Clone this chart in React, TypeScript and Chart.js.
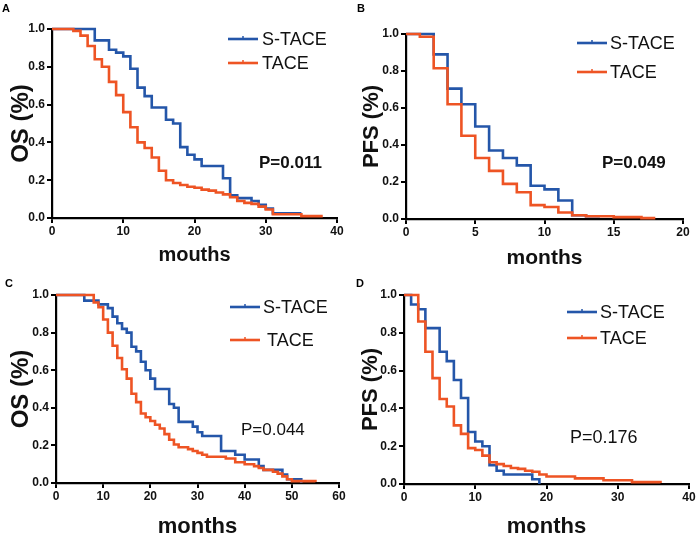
import React, { useEffect, useRef } from "react";
import { Chart, registerables } from "chart.js";
Chart.register(...registerables);

const BLUE = "#2456a9";
const ORANGE = "#ee5424";
const FONT = 'Arial, "Liberation Sans", Helvetica, sans-serif';

// Panel A: OS
const aBlueT = [0, 6, 8, 9, 10, 11, 12, 13, 14, 16, 17, 18, 19, 20, 21, 24, 25, 26, 28, 29, 30, 31, 35];
const aBlueS = [1, 0.94, 0.89, 0.875, 0.855, 0.79, 0.69, 0.645, 0.585, 0.52, 0.5, 0.375, 0.335, 0.31, 0.275, 0.21, 0.12, 0.105, 0.09, 0.07, 0.05, 0.025, 0.025];
const aOrangeT = [0, 3, 4, 5, 6, 7, 8, 9, 10, 11, 12, 13, 14, 15, 16, 17, 18, 19, 20, 21, 22, 23, 24, 25, 26, 27, 28, 29, 30, 31, 35, 38];
const aOrangeS = [1, 0.99, 0.965, 0.91, 0.84, 0.8, 0.72, 0.65, 0.56, 0.48, 0.4, 0.37, 0.32, 0.25, 0.2, 0.185, 0.175, 0.165, 0.16, 0.15, 0.145, 0.135, 0.125, 0.11, 0.09, 0.08, 0.075, 0.06, 0.045, 0.02, 0.01, 0.01];

// Panel B: PFS
const bBlueT = [0, 2, 3, 4, 5, 6, 7, 8, 9, 10, 11, 12, 13, 14];
const bBlueS = [1, 0.89, 0.705, 0.62, 0.5, 0.37, 0.33, 0.29, 0.18, 0.16, 0.1, 0.02, 0.015, 0.015];
const bOrangeT = [0, 1, 2, 3, 4, 5, 6, 7, 8, 9, 10, 11, 12, 13, 15, 17, 18];
const bOrangeS = [1, 0.985, 0.815, 0.62, 0.45, 0.33, 0.26, 0.19, 0.145, 0.075, 0.065, 0.035, 0.02, 0.015, 0.01, 0.005, 0.005];

// Panel C: OS
const cBlueT = [0, 6, 9, 11, 12, 13, 14, 15, 16, 17, 18, 19, 20, 21, 24, 25, 26, 29, 30, 31, 35, 38, 40, 43, 44, 48, 49, 52];
const cBlueS = [1, 0.97, 0.95, 0.93, 0.885, 0.85, 0.82, 0.8, 0.725, 0.7, 0.645, 0.6, 0.555, 0.5, 0.42, 0.4, 0.325, 0.3, 0.27, 0.25, 0.17, 0.15, 0.125, 0.09, 0.07, 0.045, 0.02, 0];
const cOrangeT = [0, 8, 9, 10, 11, 12, 13, 14, 15, 16, 17, 18, 19, 20, 21, 22, 23, 24, 25, 26, 28, 29, 30, 31, 32, 36, 38, 40, 42, 43, 44, 46, 47, 48, 49, 50, 55];
const cOrangeS = [1, 0.96, 0.935, 0.87, 0.8, 0.73, 0.665, 0.605, 0.555, 0.475, 0.43, 0.37, 0.35, 0.33, 0.31, 0.29, 0.26, 0.23, 0.205, 0.19, 0.18, 0.17, 0.16, 0.15, 0.14, 0.13, 0.11, 0.1, 0.09, 0.08, 0.07, 0.06, 0.05, 0.035, 0.02, 0.01, 0.005];

// Panel D: PFS
const dBlueT = [0, 1, 2, 3, 5, 6, 7, 8, 9, 10, 11, 12, 13, 14, 18, 19];
const dBlueS = [1, 0.95, 0.925, 0.825, 0.7, 0.65, 0.55, 0.455, 0.275, 0.225, 0.2, 0.1, 0.07, 0.05, 0.025, 0];
const dOrangeT = [0, 2, 3, 4, 5, 6, 7, 8, 9, 10, 11, 12, 13, 14, 15, 16, 17, 18, 19, 20, 24, 28, 32, 36];
const dOrangeS = [1, 0.86, 0.7, 0.56, 0.45, 0.41, 0.31, 0.265, 0.19, 0.18, 0.15, 0.115, 0.105, 0.095, 0.085, 0.08, 0.07, 0.065, 0.05, 0.04, 0.03, 0.02, 0.01, 0.005];

const groupLabels = ["S-TACE", "TACE"];

type PanelCfg = {
  left: number; top: number; w: number; h: number;
  area: { l: number; r: number; t: number; b: number };
  xMax: number; xStep: number;
  blueT: number[]; blueS: number[]; orangeT: number[]; orangeS: number[];
  xTitle: string; xTitleSize: number; xTitlePad: number;
  yTitle: string; yTitleSize: number; yTitlePad: number;
  letter: string; letterX: number; letterY: number;
  legX: number; legY: number[]; legTextX: number[];
  pText: string; pX: number; pY: number; pBold: boolean; pSize: number;
};

const panels: PanelCfg[] = [
  {
    left: 0, top: 0, w: 350, h: 270,
    area: { l: 52, r: 337, t: 29, b: 218 },
    xMax: 40, xStep: 10,
    blueT: aBlueT, blueS: aBlueS, orangeT: aOrangeT, orangeS: aOrangeS,
    xTitle: "mouths", xTitleSize: 20, xTitlePad: 5,
    yTitle: "OS (%)", yTitleSize: 24, yTitlePad: 9,
    letter: "A", letterX: 2, letterY: 8.5,
    legX: 228, legY: [39, 63], legTextX: [262, 262],
    pText: "P=0.011", pX: 259, pY: 163, pBold: true, pSize: 17,
  },
  {
    left: 350, top: 0, w: 350, h: 270,
    area: { l: 56, r: 333, t: 34, b: 219 },
    xMax: 20, xStep: 5,
    blueT: bBlueT, blueS: bBlueS, orangeT: bOrangeT, orangeS: bOrangeS,
    xTitle: "months", xTitleSize: 21, xTitlePad: 1.5,
    yTitle: "PFS (%)", yTitleSize: 22, yTitlePad: 10.5,
    letter: "B", letterX: 7, letterY: 8.5,
    legX: 227, legY: [43, 72], legTextX: [260, 260],
    pText: "P=0.049", pX: 252, pY: 163, pBold: true, pSize: 17,
  },
  {
    left: 0, top: 270, w: 350, h: 269,
    area: { l: 56, r: 339, t: 25, b: 213 },
    xMax: 60, xStep: 10,
    blueT: cBlueT, blueS: cBlueS, orangeT: cOrangeT, orangeS: cOrangeS,
    xTitle: "months", xTitleSize: 22, xTitlePad: 1,
    yTitle: "OS (%)", yTitleSize: 24, yTitlePad: 9.5,
    letter: "C", letterX: 5, letterY: 14,
    legX: 230, legY: [37, 70], legTextX: [263, 267],
    pText: "P=0.044", pX: 241, pY: 160, pBold: false, pSize: 17,
  },
  {
    left: 350, top: 270, w: 350, h: 269,
    area: { l: 54, r: 339, t: 25, b: 214 },
    xMax: 40, xStep: 10,
    blueT: dBlueT, blueS: dBlueS, orangeT: dOrangeT, orangeS: dOrangeS,
    xTitle: "months", xTitleSize: 22, xTitlePad: 1,
    yTitle: "PFS (%)", yTitleSize: 22, yTitlePad: 10,
    letter: "D", letterX: 6, letterY: 14,
    legX: 217, legY: [42, 68], legTextX: [250, 250],
    pText: "P=0.176", pX: 220, pY: 168, pBold: false, pSize: 18,
  },
];

const decoPlugin = {
  id: "deco",
  afterDraw(chart: any, _args: any, opts: any) {
    const ctx = chart.ctx as CanvasRenderingContext2D;
    ctx.save();
    ctx.fillStyle = "#000";
    ctx.textAlign = "left";
    ctx.textBaseline = "middle";
    ctx.font = `bold 11px ${FONT}`;
    ctx.fillText(opts.letter, opts.letterX, opts.letterY);
    const colors = [BLUE, ORANGE];
    for (let i = 0; i < 2; i++) {
      const y = opts.legY[i];
      ctx.strokeStyle = colors[i];
      ctx.lineWidth = 2.6;
      ctx.beginPath();
      ctx.moveTo(opts.legX, y);
      ctx.lineTo(opts.legX + 30, y);
      ctx.stroke();
      ctx.lineWidth = 1.5;
      ctx.beginPath();
      ctx.moveTo(opts.legX + 15, y - 3);
      ctx.lineTo(opts.legX + 15, y + 1);
      ctx.stroke();
      ctx.fillStyle = "#111";
      ctx.font = `18px ${FONT}`;
      ctx.fillText(opts.labels[i], opts.legTextX[i], y + 1);
    }
    ctx.fillStyle = "#111";
    ctx.font = `${opts.pBold ? "bold " : ""}${opts.pSize}px ${FONT}`;
    ctx.fillText(opts.pText, opts.pX, opts.pY);
    ctx.restore();
  },
};

function toPoints(t: number[], s: number[]) {
  return t.map((x, i) => ({ x, y: s[i] }));
}

function Panel({ cfg }: { cfg: PanelCfg }) {
  const ref = useRef<HTMLCanvasElement | null>(null);
  useEffect(() => {
    if (!ref.current) return;
    const a = cfg.area;
    const chart = new Chart(ref.current, {
      type: "line",
      data: {
        datasets: [
          {
            label: groupLabels[1],
            data: toPoints(cfg.orangeT, cfg.orangeS),
            borderColor: ORANGE,
            borderWidth: 2.6,
            pointRadius: 0,
            stepped: true,
            fill: false,
            clip: false as any,
          },
          {
            label: groupLabels[0],
            data: toPoints(cfg.blueT, cfg.blueS),
            borderColor: BLUE,
            borderWidth: 2.6,
            pointRadius: 0,
            stepped: true,
            fill: false,
            clip: false as any,
          },
        ],
      },
      options: {
        animation: false,
        responsive: false,
        devicePixelRatio: 1,
        layout: { padding: { left: 0, top: a.t, right: cfg.w - a.r, bottom: 0 } },
        plugins: {
          legend: { display: false },
          tooltip: { enabled: false },
          deco: {
            letter: cfg.letter, letterX: cfg.letterX, letterY: cfg.letterY,
            legX: cfg.legX, legY: cfg.legY, legTextX: cfg.legTextX, labels: groupLabels,
            pText: cfg.pText, pX: cfg.pX, pY: cfg.pY, pBold: cfg.pBold, pSize: cfg.pSize,
          },
        } as any,
        scales: {
          x: {
            type: "linear",
            min: 0,
            max: cfg.xMax,
            afterFit: (s: any) => { s.height = cfg.h - a.b; },
            border: { display: true, color: "#000", width: 2.2 },
            grid: { display: true, drawOnChartArea: false, drawTicks: true, tickLength: 5, color: "#000", lineWidth: 2 },
            ticks: { stepSize: cfg.xStep, padding: 1, color: "#111", font: { family: FONT, size: 12, weight: "bold" }, maxRotation: 0 },
            title: { display: true, text: cfg.xTitle, color: "#111", font: { family: FONT, size: cfg.xTitleSize, weight: "bold", lineHeight: 1 }, padding: { top: 0, bottom: cfg.xTitlePad } },
          },
          y: {
            type: "linear",
            min: 0,
            max: 1,
            afterFit: (s: any) => { s.width = a.l; },
            border: { display: true, color: "#000", width: 2.2 },
            grid: { display: true, drawOnChartArea: false, drawTicks: true, tickLength: 5, color: "#000", lineWidth: 2 },
            ticks: { stepSize: 0.2, padding: 2, color: "#111", font: { family: FONT, size: 12, weight: "bold" }, callback: (v: any) => Number(v).toFixed(1) },
            title: { display: true, text: cfg.yTitle, color: "#111", font: { family: FONT, size: cfg.yTitleSize, weight: "bold", lineHeight: 1 }, padding: { top: cfg.yTitlePad, bottom: 0 } },
          },
        },
      } as any,
      plugins: [decoPlugin as any],
    });
    return () => chart.destroy();
  }, [cfg]);
  return (
    <div style={{ position: "absolute", left: cfg.left, top: cfg.top, width: cfg.w, height: cfg.h }}>
      <canvas ref={ref} width={cfg.w} height={cfg.h} style={{ display: "block" }} />
    </div>
  );
}

export default function App() {
  return (
    <div style={{ position: "absolute", left: 0, top: 0, width: 700, height: 539, background: "#fff", overflow: "hidden" }}>
      {panels.map((p) => (
        <Panel key={p.letter} cfg={p} />
      ))}
    </div>
  );
}
